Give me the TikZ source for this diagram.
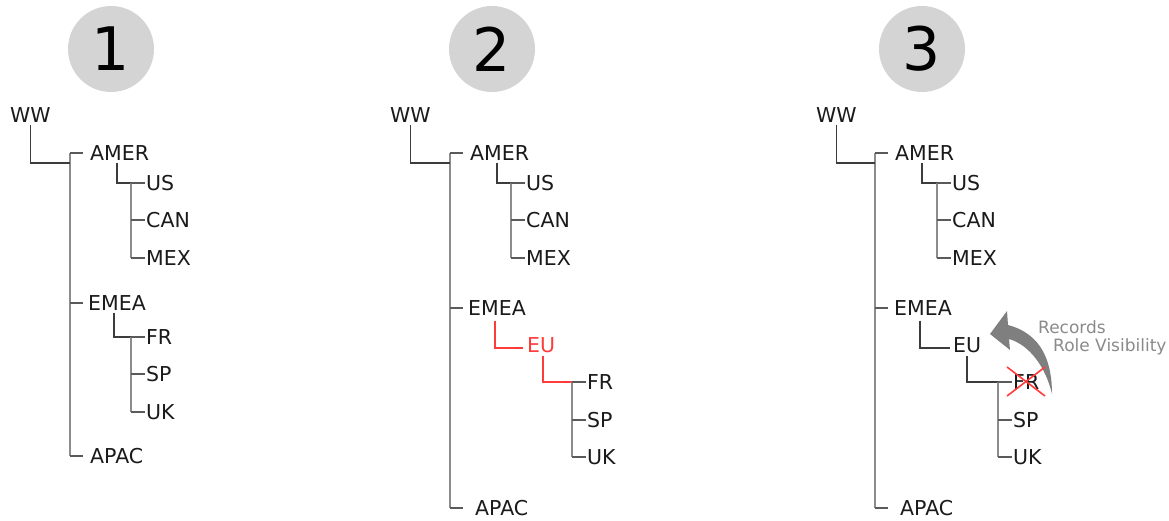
\documentclass[tikz,border=0pt]{standalone}
\usepackage{fontspec}
\setmainfont{DejaVu Sans}
\definecolor{txt}{HTML}{1A1A1A}
\definecolor{circ}{HTML}{D4D4D4}
\definecolor{dk}{HTML}{3C3C3C}
\definecolor{lt}{HTML}{8C8C8C}
\definecolor{md}{HTML}{5A5A5A}
\definecolor{hired}{HTML}{FF3B3B}
\definecolor{note}{HTML}{8A8A8A}
\definecolor{arrowc}{HTML}{7F7F7F}
\begin{document}
\begin{tikzpicture}[x=1pt,y=-1pt,
 lbl/.style={anchor=west,inner sep=0pt,text=txt,font=\fontsize{20.5}{24}\selectfont},
 redlbl/.style={lbl,text=hired},
 notelbl/.style={anchor=west,inner sep=0pt,text=note,font=\fontsize{17}{20}\selectfont},
 num/.style={circle,fill=circ,minimum size=86pt,inner sep=0pt,font=\fontsize{60}{70}\selectfont,text=black},
 elbow/.style={draw=dk,line width=1.8pt},
 bus/.style={draw=lt,line width=1.8pt},
 tick/.style={draw=md,line width=1.8pt},
 hl/.style={draw=hired,line width=1.8pt},
 cross/.style={draw=hired,line width=1.6pt},
]
\useasboundingbox (0,0) rectangle (1169,520);

% ================= Panel 1 =================
\node[num] (c1) at (111,49) {1};
\node[lbl] (ww1) at (10,115) {WW};
\node[lbl] (amer1) at (90,153) {AMER};
\node[lbl] (us1) at (146,183) {US};
\node[lbl] (can1) at (146,220) {CAN};
\node[lbl] (mex1) at (146,258) {MEX};
\node[lbl] (emea1) at (88,303) {EMEA};
\node[lbl] (fr1) at (146,337) {FR};
\node[lbl] (sp1) at (146,374) {SP};
\node[lbl] (uk1) at (146,412) {UK};
\node[lbl] (apac1) at (90,456) {APAC};
\coordinate (b1t) at (70,153);
\coordinate (b1j) at (70,163);
\coordinate (b1b) at (70,456);
\coordinate (a1t) at (131,183);
\coordinate (a1b) at (131,258);
\coordinate (e1t) at (131,337);
\coordinate (e1b) at (131,412);
\draw[bus] (b1t) -- (b1b);
\draw[elbow] ([yshift=-2pt]ww1.south) |- (b1j);
\draw[tick] (b1t) -- ([xshift=-7pt]amer1.west);
\draw[tick] (emea1.west -| b1t) -- ([xshift=-5pt]emea1.west);
\draw[tick] (b1b) -- ([xshift=-7pt]apac1.west);
\draw[elbow] ([xshift=-3pt,yshift=-2pt]amer1.south) |- (a1t);
\draw[bus] (a1t) -- (a1b);
\draw[tick] (a1t) -- ([xshift=-1pt]us1.west);
\draw[tick] (can1.west -| a1t) -- ([xshift=-1pt]can1.west);
\draw[tick] (a1b) -- ([xshift=-1pt]mex1.west);
\draw[elbow] ([xshift=-3pt,yshift=-2pt]emea1.south) |- (e1t);
\draw[bus] (e1t) -- (e1b);
\draw[tick] (e1t) -- ([xshift=-1pt]fr1.west);
\draw[tick] (sp1.west -| e1t) -- ([xshift=-1pt]sp1.west);
\draw[tick] (e1b) -- ([xshift=-1pt]uk1.west);

% ================= Panel 2 =================
\node[num] (c2) at (492,49) {2};
\node[lbl] (ww2) at (390,115) {WW};
\node[lbl] (amer2) at (470,153) {AMER};
\node[lbl] (us2) at (526,183) {US};
\node[lbl] (can2) at (526,220) {CAN};
\node[lbl] (mex2) at (526,258) {MEX};
\node[lbl] (emea2) at (468,308) {EMEA};
\node[redlbl] (eu2) at (527,345) {EU};
\node[lbl] (fr2) at (587,382) {FR};
\node[lbl] (sp2) at (587,420) {SP};
\node[lbl] (uk2) at (587,457) {UK};
\node[lbl] (apac2) at (475,508) {APAC};
\coordinate (b2t) at (450,153);
\coordinate (b2j) at (450,163);
\coordinate (b2b) at (450,508);
\coordinate (a2t) at (511,183);
\coordinate (a2b) at (511,258);
\coordinate (e2t) at (572,382);
\coordinate (e2b) at (572,457);
\draw[bus] (b2t) -- (b2b);
\draw[elbow] ([yshift=-2pt]ww2.south) |- (b2j);
\draw[tick] (b2t) -- ([xshift=-7pt]amer2.west);
\draw[tick] (emea2.west -| b2t) -- ([xshift=-5pt]emea2.west);
\draw[tick] (b2b) -- ([xshift=-12pt]apac2.west);
\draw[elbow] ([xshift=-3pt,yshift=-2pt]amer2.south) |- (a2t);
\draw[bus] (a2t) -- (a2b);
\draw[tick] (a2t) -- ([xshift=-1pt]us2.west);
\draw[tick] (can2.west -| a2t) -- ([xshift=-1pt]can2.west);
\draw[tick] (a2b) -- ([xshift=-1pt]mex2.west);
\draw[hl] ([xshift=-2pt,yshift=-5pt]emea2.south) |- ([xshift=-4pt,yshift=-3pt]eu2.west);
\draw[hl] ([xshift=2pt,yshift=-3pt]eu2.south) |- (e2t);
\draw[bus] (e2t) -- (e2b);
\draw[tick] (e2t) -- ([xshift=-1pt]fr2.west);
\draw[tick] (sp2.west -| e2t) -- ([xshift=-1pt]sp2.west);
\draw[tick] (e2b) -- ([xshift=-1pt]uk2.west);

% ================= Panel 3 =================
\node[num] (c3) at (922,49) {3};
\node[lbl] (ww3) at (816,115) {WW};
\node[lbl] (amer3) at (895,153) {AMER};
\node[lbl] (us3) at (952,183) {US};
\node[lbl] (can3) at (952,220) {CAN};
\node[lbl] (mex3) at (952,258) {MEX};
\node[lbl] (emea3) at (894,308) {EMEA};
\node[lbl] (eu3) at (953,345) {EU};
\node[lbl] (fr3) at (1013,382) {FR};
\node[lbl] (sp3) at (1013,420) {SP};
\node[lbl] (uk3) at (1013,457) {UK};
\node[lbl] (apac3) at (900,508) {APAC};
\coordinate (b3t) at (875,153);
\coordinate (b3j) at (875,163);
\coordinate (b3b) at (875,508);
\coordinate (a3t) at (937,183);
\coordinate (a3b) at (937,258);
\coordinate (e3t) at (998,382);
\coordinate (e3b) at (998,457);
\draw[bus] (b3t) -- (b3b);
\draw[elbow] ([yshift=-2pt]ww3.south) |- (b3j);
\draw[tick] (b3t) -- ([xshift=-7pt]amer3.west);
\draw[tick] (emea3.west -| b3t) -- ([xshift=-6pt]emea3.west);
\draw[tick] (b3b) -- ([xshift=-12pt]apac3.west);
\draw[elbow] ([xshift=-3pt,yshift=-2pt]amer3.south) |- (a3t);
\draw[bus] (a3t) -- (a3b);
\draw[tick] (a3t) -- ([xshift=-1pt]us3.west);
\draw[tick] (can3.west -| a3t) -- ([xshift=-1pt]can3.west);
\draw[tick] (a3b) -- ([xshift=-1pt]mex3.west);
\draw[elbow] ([xshift=-3pt,yshift=-5pt]emea3.south) |- ([xshift=-3pt,yshift=-3pt]eu3.west);
\draw[elbow] ([yshift=-3pt]eu3.south) |- (e3t);
\draw[bus] (e3t) -- (e3b);
\draw[tick] (e3t) -- ([xshift=-1pt]fr3.west);
\draw[tick] (sp3.west -| e3t) -- ([xshift=-1pt]sp3.west);
\draw[tick] (e3b) -- ([xshift=-1pt]uk3.west);

% curved arrow
\fill[arrowc] (1052,394) .. controls (1052,362) and (1042,334) .. (1008,325)
  -- (1007,311) -- (990,334) -- (1010,350) -- (1009,339)
  .. controls (1030,345) and (1046,368) .. cycle;
% cross over FR
\draw[cross] ([shift={(-6,-15)}]fr3.west) -- ([shift={(32,14)}]fr3.west);
\draw[cross] ([shift={(-6,14)}]fr3.west) -- ([shift={(32,-15)}]fr3.west);

\node[notelbl] (rec) at (1038,327) {Records};
\node[notelbl] (rv) at (1053,347) {Role Visibility};
\end{tikzpicture}
\end{document}
